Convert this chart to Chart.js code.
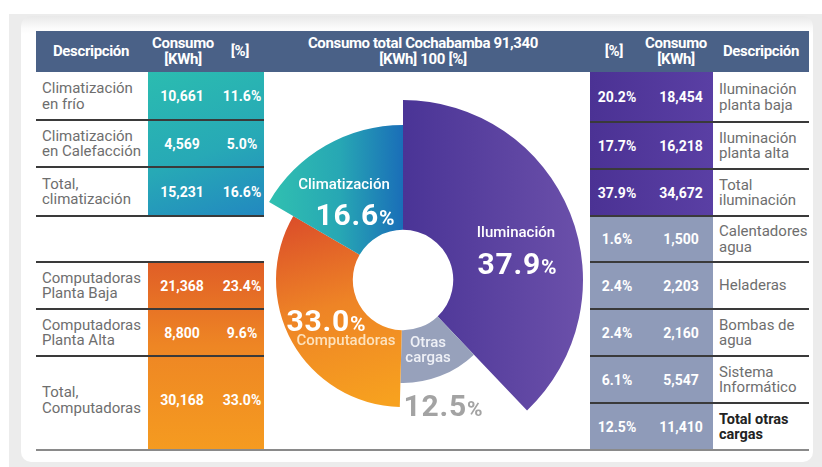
<!DOCTYPE html>
<html>
<head>
<meta charset="utf-8">
<script src="https://cdn.jsdelivr.net/npm/chart.js@4.4.1/dist/chart.umd.min.js"></script>
<style>
  html,body{margin:0;padding:0;background:#fff;width:822px;height:467px;overflow:hidden;font-family:Roboto,"Noto Sans",sans-serif;}
  #frame{position:absolute;left:9px;top:14px;width:813px;height:453px;background:#ececec;}
  #card{position:absolute;left:21px;top:16px;width:792px;height:446px;background:linear-gradient(to bottom,#e9e9e9 0px,#fbfbfb 12px,#fff 18px);border-radius:10px;}
  .abs{position:absolute;}
  .hdr{position:absolute;left:36px;top:31px;width:773px;height:41px;background:#4a6187;}
  .ht{position:absolute;color:#fff;font-weight:700;font-size:15px;line-height:16px;text-align:center;letter-spacing:-0.35px;transform:translate(-50%,-50%);white-space:nowrap;}
  .desc{position:absolute;color:#6e6e6e;font-size:15px;line-height:15.5px;white-space:nowrap;transform:translateY(-50%);}
  .num{position:absolute;color:#fff;font-weight:700;font-size:14px;transform:translate(-50%,-50%);white-space:nowrap;}
  .line{position:absolute;height:2px;background:#3a3a3a;}
  .lbl{position:absolute;color:#fff;font-size:15px;font-weight:500;transform:translate(-50%,-50%);white-space:nowrap;text-align:center;line-height:15px;}
  .big{position:absolute;color:#fff;font-weight:700;font-size:30px;transform:translate(-50%,-50%);white-space:nowrap;letter-spacing:0.8px;}
  .big small{font-size:21px;font-weight:700;letter-spacing:0;}
  canvas{position:absolute;}
</style>
</head>
<body>
<div id="frame"></div>
<div id="card"></div>
<div class="hdr"></div>
<div id="root"></div>
<canvas id="c" width="380" height="380" style="left:213px;top:90px;width:380px;height:380px;"></canvas>
<div id="labels"></div>
<script>
// ---------- DATA ----------
const pieLabels = ["Iluminación", "Otras cargas", "Computadoras", "Climatización"];
const pieValues = [37.9, 12.5, 33.0, 16.6];

const leftCategories = ["Climatización\nen frío", "Climatización\nen Calefacción", "Total,\nclimatización",
                        "Computadoras\nPlanta Baja", "Computadoras\nPlanta Alta", "Total,\nComputadoras"];
const leftKwh = ["10,661", "4,569", "15,231", "21,368", "8,800", "30,168"];
const leftPct = ["11.6%", "5.0%", "16.6%", "23.4%", "9.6%", "33.0%"];

const rightCategories = ["Iluminación\nplanta baja", "Iluminación\nplanta alta", "Total\niluminación",
                         "Calentadores\nagua", "Heladeras", "Bombas de\nagua", "Sistema\nInformático", "Total otras\ncargas"];
const rightPct = ["20.2%", "17.7%", "37.9%", "1.6%", "2.4%", "2.4%", "6.1%", "12.5%"];
const rightKwh = ["18,454", "16,218", "34,672", "1,500", "2,203", "2,160", "5,547", "11,410"];

const headerTitle = ["Consumo total Cochabamba 91,340", "[KWh] 100 [%]"];

// ---------- LAYOUT (styles / positions) ----------
const leftRows = [[72,120],[120,167],[167,216],[262,309],[309,356],[356,450]];
const rightRows = [[72,122],[122,169],[169,216],[216,262],[262,309],[309,356],[356,403],[403,450]];
const root = document.getElementById('root');
function el(cls, css, html){ const d=document.createElement('div'); d.className=cls; Object.assign(d.style, css); if(html!==undefined) d.innerHTML=html; root.appendChild(d); return d; }

// colored blocks
el('abs',{left:'148px',top:'72px',width:'116px',height:'144px',background:'linear-gradient(160deg,#2bbcb0 0%,#27a9b6 55%,#2288c0 100%)'});
el('abs',{left:'148px',top:'262px',width:'116px',height:'188px',background:'linear-gradient(to bottom,#e05e27 0%,#ee8624 45%,#f59b20 100%)'});
el('abs',{left:'590px',top:'72px',width:'123px',height:'144px',background:'linear-gradient(to right,#4b3294,#5a3fa4)'});
el('abs',{left:'590px',top:'216px',width:'123px',height:'234px',background:'#8f9bb9'});

// header texts
el('ht',{left:'91px',top:'51px'},'Descripción');
el('ht',{left:'183px',top:'51px'},'Consumo<br>[KWh]');
el('ht',{left:'240px',top:'51px'},'[%]');
el('ht',{left:'423px',top:'51px'},headerTitle.join('<br>'));
el('ht',{left:'614px',top:'51px'},'[%]');
el('ht',{left:'676px',top:'51px'},'Consumo<br>[KWh]');
el('ht',{left:'761px',top:'51px'},'Descripción');

// left table
leftRows.forEach((r,i)=>{
  const cy=(r[0]+r[1])/2 + (i===5? -3:0);
  el('desc',{left:'42px',top:cy+'px'},leftCategories[i].replace('\n','<br>'));
  el('num',{left:'182px',top:cy+'px'},leftKwh[i]);
  el('num',{left:'242px',top:cy+'px'},leftPct[i]);
});
[120,167,216,262,309,356].forEach(y=>el('line',{left:'36px',top:(y-1)+'px',width:'228px'}));

// right table
rightRows.forEach((r,i)=>{
  const cy=(r[0]+r[1])/2;
  const d=el('desc',{left:'719px',top:cy+'px'},rightCategories[i].replace('\n','<br>'));
  if(i===7){ d.style.fontWeight='700'; d.style.color='#222'; d.style.fontSize='14.5px'; }
  el('num',{left:'617px',top:cy+'px'},rightPct[i]);
  el('num',{left:'681px',top:cy+'px'},rightKwh[i]);
});
[122,169,216,262,309,356,403].forEach(y=>el('line',{left:'590px',top:(y-1)+'px',width:'219px'}));
el('line',{left:'36px',top:'449px',width:'773px',background:'#8a8a8a'});

// ---------- CHART ----------
const sliceRadius = [180, 103, 127, 155]; // px outer radius per slice (style)
function fill(ctx){
  const chart = ctx.chart, a = chart.chartArea;
  if(!a) return '#888';
  const cx=(a.left+a.right)/2, cy=(a.top+a.bottom)/2, c=chart.ctx;
  let g;
  switch(ctx.dataIndex){
    case 0: g=c.createLinearGradient(cx,0,cx+180,0); g.addColorStop(0,'#4a3496'); g.addColorStop(1,'#6b50aa'); return g;
    case 1: return '#97a1bb';
    case 2: g=c.createLinearGradient(cx-90,cy-80,cx-30,cy+125); g.addColorStop(0,'#d9482a'); g.addColorStop(0.5,'#ee8426'); g.addColorStop(1,'#f7a11f'); return g;
    case 3: g=c.createLinearGradient(cx-140,0,cx,0); g.addColorStop(0,'#31c2b0'); g.addColorStop(0.55,'#27a7b4'); g.addColorStop(1,'#1a6eb8'); return g;
  }
}
const varRadius = {
  id:'varRadius',
  beforeDatasetsDraw(chart){
    chart.getDatasetMeta(0).data.forEach((arc,i)=>{ arc.outerRadius = sliceRadius[i]; });
  }
};
new Chart(document.getElementById('c'),{
  type:'doughnut',
  data:{labels:pieLabels, datasets:[{data:pieValues, backgroundColor:fill, borderWidth:0, hoverOffset:0}]},
  options:{
    responsive:false, animation:false, radius:180, cutout:53,
    layout:{padding:0},
    plugins:{legend:{display:false}, tooltip:{enabled:false}},
    events:[]
  },
  plugins:[varRadius]
});

// slice labels
const L=document.getElementById('labels');
function lab(cls,css,html){ const d=document.createElement('div'); d.className=cls; Object.assign(d.style,css); d.innerHTML=html; L.appendChild(d); return d;}
lab('lbl',{left:'516px',top:'232px'},pieLabels[0]);
lab('big',{left:'517px',top:'263px'},pieValues[0].toFixed(1)+'<small>%</small>');
lab('lbl',{left:'344px',top:'184px'},pieLabels[3]);
lab('big',{left:'355px',top:'214px'},pieValues[3].toFixed(1)+'<small>%</small>');
lab('big',{left:'326px',top:'320px'},pieValues[2].toFixed(1)+'<small>%</small>');
lab('lbl',{left:'346px',top:'340px',color:'#fde2bd'},pieLabels[2]);
lab('lbl',{left:'428px',top:'350px',color:'#eef0f6'},'Otras<br>cargas');
lab('big',{left:'443px',top:'405px',color:'#a3a3a3'},pieValues[1].toFixed(1)+'<small>%</small>');
</script>
</body>
</html>
